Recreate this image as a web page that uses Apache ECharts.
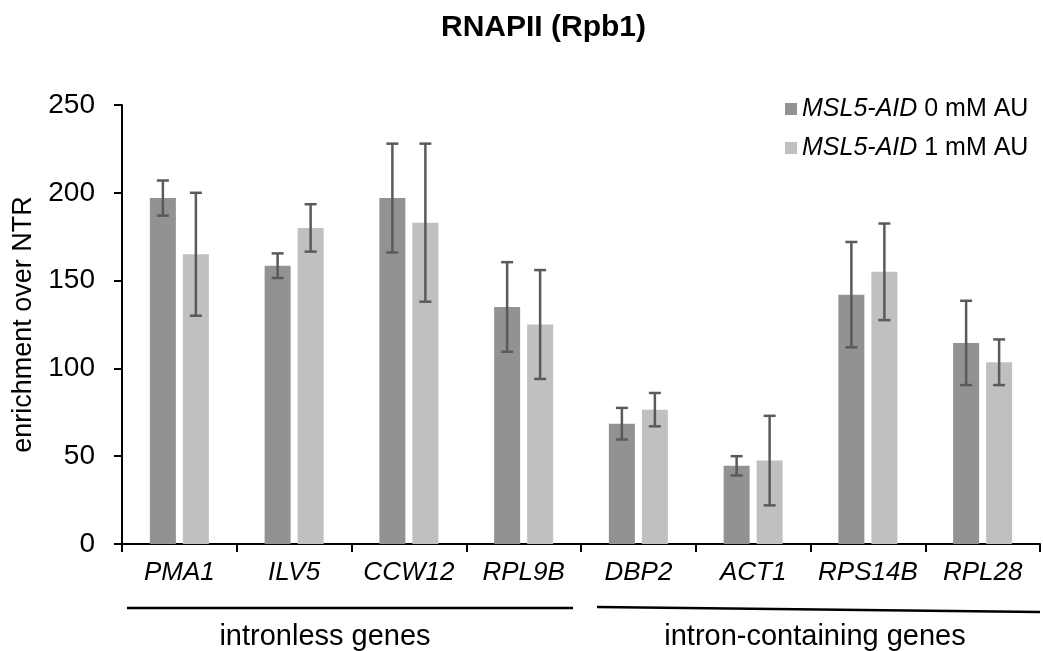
<!DOCTYPE html>
<html>
<head>
<meta charset="utf-8">
<script src="https://cdn.jsdelivr.net/npm/echarts@6/dist/echarts.min.js"></script>
<style>
  html, body { margin: 0; padding: 0; background: #fff; }
  #chart { width: 1043px; height: 651px; }
</style>
</head>
<body>
<div id="chart"></div>
<script>
// genes on the x axis
var genes = ['PMA1', 'ILV5', 'CCW12', 'RPL9B', 'DBP2', 'ACT1', 'RPS14B', 'RPL28'];
var seriesNames = ['MSL5-AID 0 mM AU', 'MSL5-AID 1 mM AU'];

// enrichment over NTR
var au0 = [197, 158.5, 197, 135, 68.5, 44.5, 142, 114.5];
var au0Err = [10, 7, 31, 25.5, 9, 5.5, 30, 24];
var au1 = [165, 180, 183, 125, 76.5, 47.5, 155, 103.5];
var au1Err = [35, 13.5, 45, 31, 9.5, 25.5, 27.5, 13];

var yTicks = [0, 50, 100, 150, 200, 250];

var FONT = '"Liberation Sans", Arial, sans-serif';
var BAR_W = 26, BAR_GAP = 7;

// error bar data: [category index, low, high]
function errData(vals, errs) {
  return vals.map(function (v, i) { return [i, v - errs[i], v + errs[i]]; });
}

function errSeries(vals, errs, offset) {
  return {
    type: 'custom',
    z: 5,
    data: errData(vals, errs),
    encode: { x: 0, y: [1, 2] },
    renderItem: function (params, api) {
      var lo = api.coord([api.value(0), api.value(1)]);
      var hi = api.coord([api.value(0), api.value(2)]);
      var x = lo[0] + offset;
      var cap = 6;
      var st = { stroke: '#5a5a5a', lineWidth: 2.5 };
      return {
        type: 'group',
        children: [
          { type: 'line', shape: { x1: x, y1: lo[1], x2: x, y2: hi[1] }, style: st },
          { type: 'line', shape: { x1: x - cap, y1: lo[1], x2: x + cap, y2: lo[1] }, style: st },
          { type: 'line', shape: { x1: x - cap, y1: hi[1], x2: x + cap, y2: hi[1] }, style: st }
        ]
      };
    }
  };
}

var myChart = echarts.init(document.getElementById('chart'));

var off = (BAR_W + BAR_GAP) / 2;

var option = {
  backgroundColor: '#fff',
  animation: false,
  textStyle: { fontFamily: FONT },
  title: {
    text: 'RNAPII (Rpb1)',
    left: 436,
    top: 8,
    textStyle: { fontFamily: FONT, fontSize: 30, fontWeight: 'bold', color: '#000' }
  },
  legend: {
    data: seriesNames,
    orient: 'vertical',
    left: 780,
    top: 91,
    itemWidth: 12,
    itemHeight: 12,
    itemGap: 13,
    icon: 'rect',
    formatter: function (name) {
      var k = name.indexOf(' ');
      return '{i|' + name.slice(0, k) + '}' + name.slice(k);
    },
    textStyle: {
      fontFamily: FONT, fontSize: 25, color: '#000', lineHeight: 26,
      rich: { i: { fontFamily: FONT, fontSize: 25, fontStyle: 'italic', color: '#000' } }
    }
  },
  grid: { left: 122, right: 3, top: 105, bottom: 107 },
  xAxis: {
    type: 'category',
    data: genes,
    axisLine: { show: true, lineStyle: { color: '#000', width: 2 } },
    axisTick: { show: true, inside: false, interval: 0, length: 8, lineStyle: { color: '#000', width: 2 } },
    axisLabel: { interval: 0, margin: 16, fontFamily: FONT, fontSize: 26, fontStyle: 'italic', color: '#000' }
  },
  yAxis: {
    type: 'value',
    min: yTicks[0],
    max: yTicks[yTicks.length - 1],
    interval: 50,
    name: 'enrichment over NTR',
    nameLocation: 'middle',
    nameGap: 74,
    nameTextStyle: { fontFamily: FONT, fontSize: 27, color: '#000' },
    axisLine: { show: true, lineStyle: { color: '#000', width: 2 } },
    axisTick: { show: true, inside: false, length: 8, lineStyle: { color: '#000', width: 2 } },
    axisLabel: { margin: 27, fontFamily: FONT, fontSize: 28, color: '#000' },
    splitLine: { show: false }
  },
  series: [
    {
      name: seriesNames[0],
      type: 'bar',
      data: au0,
      barWidth: BAR_W,
      barGap: (BAR_GAP / BAR_W * 100) + '%',
      itemStyle: { color: '#929292' }
    },
    {
      name: seriesNames[1],
      type: 'bar',
      data: au1,
      barWidth: BAR_W,
      itemStyle: { color: '#c0c0c0' }
    },
    errSeries(au0, au0Err, -off),
    errSeries(au1, au1Err, off)
  ],
  graphic: [
    { type: 'line', shape: { x1: 127, y1: 608, x2: 573, y2: 608 }, style: { stroke: '#000', lineWidth: 2.5 } },
    { type: 'line', shape: { x1: 597, y1: 607, x2: 1040, y2: 612 }, style: { stroke: '#000', lineWidth: 2.5 } },
    { type: 'text', x: 325, y: 637, style: { text: 'intronless genes', fontFamily: FONT, fontSize: 29, fill: '#000', align: 'center', verticalAlign: 'middle' } },
    { type: 'text', x: 815, y: 637, style: { text: 'intron-containing genes', fontFamily: FONT, fontSize: 29, fill: '#000', align: 'center', verticalAlign: 'middle' } }
  ]
};

myChart.setOption(option);
</script>
</body>
</html>
